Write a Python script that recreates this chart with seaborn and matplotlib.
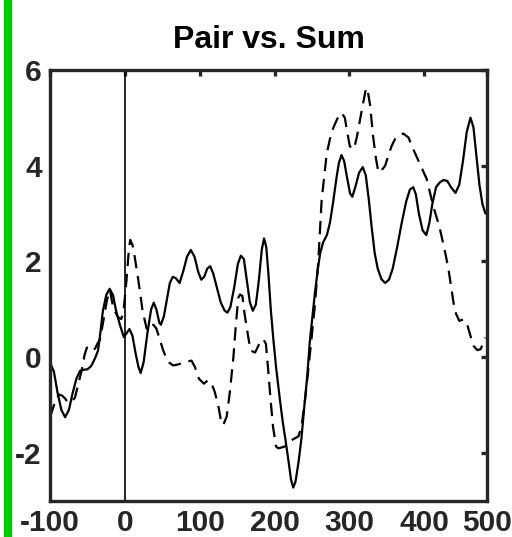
import numpy as np
import pandas as pd
import seaborn as sns
import matplotlib.pyplot as plt
from matplotlib.patches import Rectangle

# solid curve (pair)
solid_x = [-100, -95, -90, -85, -80, -75, -70, -65, -60, -55, -50, -45, -40, -36, -33, -29.5,
           -25, -20.5, -16, -12, -7, -1.5, 3, 6, 10, 14, 18, 21, 25, 30, 35, 38.5, 42, 46, 48,
           52, 56, 60, 64, 68, 73, 78, 83, 88, 93, 98, 102, 106, 110, 114, 118, 123, 128, 133,
           137, 141, 146, 151, 155, 159, 163, 167, 171, 175, 179, 183, 186, 189, 192, 195, 198,
           202, 207, 211, 215, 219, 222, 225, 228, 232, 236, 240, 244, 247, 251, 254, 258, 261,
           265, 270, 274, 278, 283, 286, 289.5, 293, 297, 301, 304, 308, 313, 318, 322, 326,
           330, 334, 338, 343, 348, 353, 358, 364, 370, 376, 381, 385.5, 389, 393, 398, 403,
           407, 411, 416, 421, 426, 431, 436, 442, 447, 452, 457, 462, 466, 470, 474, 478, 482]
solid_y = [-0.12, -0.3, -0.75, -1.1, -1.25, -1.1, -0.75, -0.45, -0.28, -0.26, -0.25, -0.18,
           -0.02, 0.14, 0.5, 0.97, 1.3, 1.43, 1.3, 0.98, 0.69, 0.42, 0.52, 0.59, 0.45, 0.1,
           -0.2, -0.33, -0.1, 0.5, 1.0, 1.14, 1.0, 0.72, 0.68, 0.85, 1.2, 1.55, 1.68, 1.65,
           1.55, 1.8, 2.1, 2.24, 2.1, 1.78, 1.62, 1.68, 1.85, 1.9, 1.75, 1.45, 1.15, 0.98, 0.93,
           1.05, 1.45, 1.95, 2.12, 2.05, 1.6, 1.15, 0.97, 1.1, 1.6, 2.25, 2.48, 2.3, 1.7, 1.0,
           0.45, -0.2, -0.86, -1.35, -1.76, -2.2, -2.55, -2.72, -2.6, -2.2, -1.69, -1.0, -0.35,
           0.3, 0.9, 1.34, 1.85, 2.17, 2.4, 2.55, 2.8, 3.2, 3.76, 4.05, 4.22, 4.1, 3.75, 3.42,
           3.35, 3.55, 3.85, 3.97, 3.8, 3.3, 2.7, 2.17, 1.85, 1.63, 1.55, 1.62, 1.85, 2.3, 2.8,
           3.25, 3.5, 3.55, 3.4, 3.0, 2.65, 2.55, 2.8, 3.2, 3.55, 3.65, 3.7, 3.68, 3.55, 3.43,
           3.6, 4.1, 4.7, 5.0, 4.8, 4.2, 3.6, 3.2, 3.0]

# dashed curve (sum)
dashed_x = [-100, -96, -92, -88, -84, -80, -76, -72, -67, -63, -58, -54, -51, -47, -43, -40,
            -36, -33.5, -29, -24, -20, -15.7, -9, -5, -2, 2, 5, 7, 10, 13, 17, 20, 23.5, 29,
            33, 38, 42, 47, 51, 53, 58, 64.5, 71, 80, 89, 93.5, 99, 105.5, 111, 115.8, 120,
            124.7, 129, 131.5, 136, 140, 145, 148, 151.5, 153.7, 157, 160, 165, 168, 174, 179.6,
            185, 188.5, 191.6, 194.8, 198, 202, 205, 210, 214, 219, 224, 232, 236, 240.7, 245,
            249.6, 254, 258.5, 263, 269.7, 274, 278.6, 284, 289.7, 294, 297, 300.6, 304, 307,
            310, 316.5, 322, 324, 327.6, 332, 335.7, 339, 343, 348, 352, 356.6, 361, 365.6, 372,
            379, 385.6, 394.5, 403.5, 412, 421, 428, 432.4, 437, 441, 447, 452.5, 457, 461.4,
            466, 471, 475.7, 481.5]
dashed_y = [-1.24, -1.05, -0.86, -0.78, -0.8, -0.86, -0.95, -0.92, -0.85, -0.6, -0.28, 0.05,
            0.2, 0.22, 0.15, 0.18, 0.31, 0.36, 0.75, 1.2, 1.4, 1.03, 0.83, 0.8, 0.95, 1.6, 2.2,
            2.45, 2.35, 2.1, 1.7, 1.38, 0.97, 0.6, 0.55, 0.68, 0.6, 0.35, 0.15, 0.07, -0.1, -0.17,
            -0.15, -0.1, -0.07, -0.2, -0.45, -0.55, -0.48, -0.55, -0.72, -1.0, -1.38, -1.41,
            -1.24, -0.76, 0.0, 0.62, 1.24, 1.31, 1.28, 0.9, 0.41, 0.14, 0.1, 0.28, 0.38, 0.28,
            -0.28, -0.9, -1.45, -1.86, -1.9, -1.88, -1.86, -1.76, -1.72, -1.65, -1.45, -0.9,
            -0.28, 0.41, 1.1, 2.0, 3.28, 4.24, 4.55, 4.79, 4.98, 5.1, 5.0, 4.72, 4.41, 4.34,
            4.4, 4.59, 5.14, 5.59, 5.62, 5.28, 4.59, 4.14, 3.86, 3.9, 4.0, 4.2, 4.41, 4.55, 4.62,
            4.67, 4.59, 4.34, 4.03, 3.72, 3.17, 2.69, 2.2, 1.86, 1.38, 0.97, 0.76, 0.79, 0.72,
            0.48, 0.24, 0.15, 0.17, 0.41]

xtick_pos = [-100, 0, 100, 200, 300, 400, 484]
xtick_labels = ["-100", "0", "100", "200", "300", "400", "500"]
ytick_pos = [-2, 0, 2, 4, 6]

sns.set_style("white")
plt.rcParams['font.family'] = ['Liberation Sans', 'DejaVu Sans']
plt.rcParams['font.weight'] = 'bold'
plt.rcParams['axes.unicode_minus'] = False

dark = "#262626"
fig = plt.figure(figsize=(5.12, 5.37), dpi=100)
ax = fig.add_axes([0.098, 0.067, 0.853, 0.803])

solid = pd.DataFrame({"t": solid_x, "v": solid_y})
dashed = pd.DataFrame({"t": dashed_x, "v": dashed_y})

ax.axvline(0, color="black", lw=1.2, zorder=1)
sns.lineplot(data=solid, x="t", y="v", ax=ax, color="black", lw=1.6, sort=False)
sns.lineplot(data=dashed, x="t", y="v", ax=ax, color="black", lw=1.6, sort=False,
             linestyle=(0, (6, 3.5)))

ax.set_xlim(-100, 484)
ax.set_ylim(-3, 6)
ax.set_xticks(xtick_pos)
ax.set_xticklabels(xtick_labels)
ax.set_yticks(ytick_pos)
ax.set_xlabel("")
ax.set_ylabel("")

for s in ax.spines.values():
    s.set_visible(True)
    s.set_linewidth(2.4)
    s.set_color(dark)
ax.tick_params(direction="in", length=4, width=2.4, color=dark, labelcolor=dark,
               labelsize=21.5, top=True, right=True, pad=6)
for lab in ax.get_xticklabels() + ax.get_yticklabels():
    lab.set_fontweight("bold")

ax.set_title("Pair vs. Sum", fontsize=23, fontweight="bold", color="black", pad=16)

# green bar along the left edge
fig.patches.append(Rectangle((4 / 512, 0), 7 / 512, 1, transform=fig.transFigure,
                             color="#00cc00", zorder=0))

fig.savefig("out.png", dpi=100)
